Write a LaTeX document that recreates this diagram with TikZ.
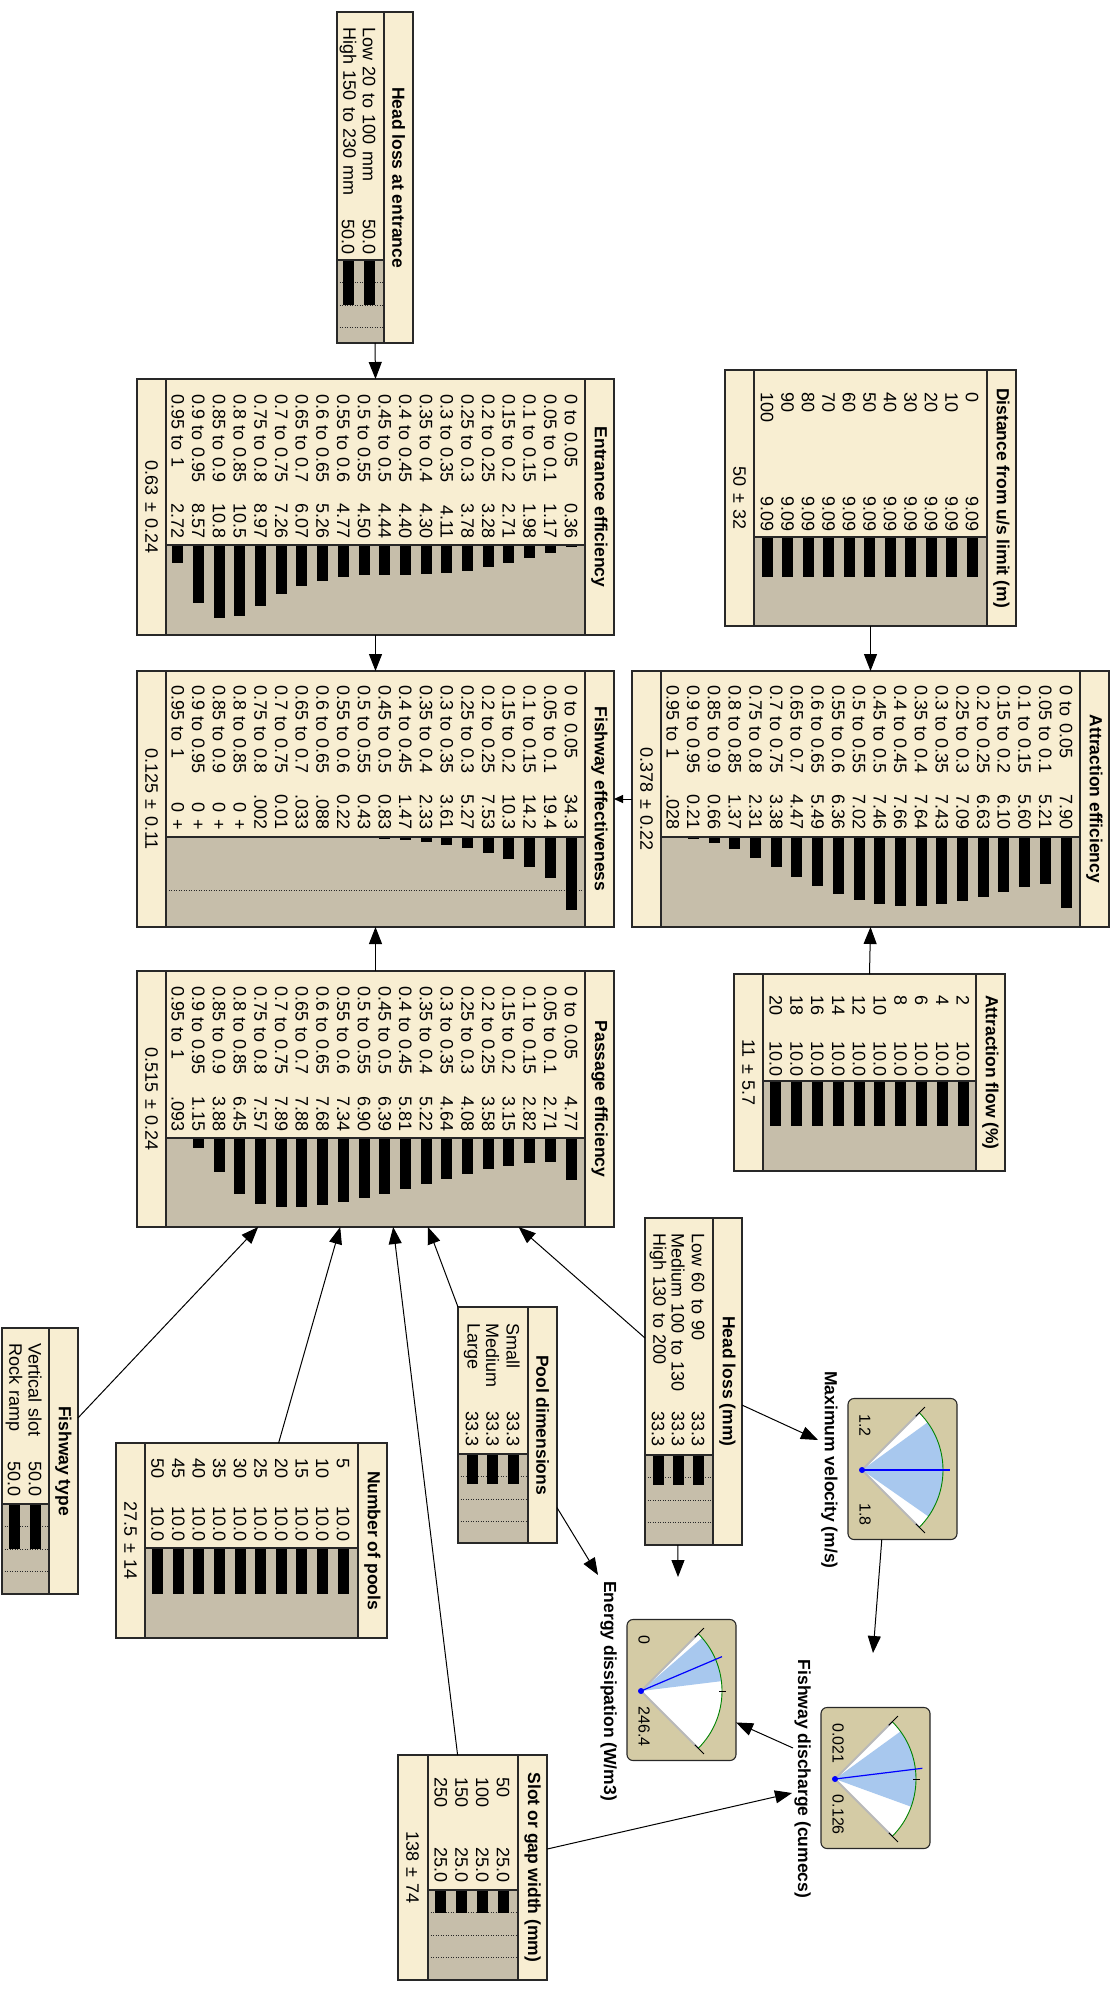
\documentclass[tikz,border=0pt]{standalone}
\usepackage{fontspec}
\setmainfont{Liberation Sans}
\newfontfamily\rowfont[WordSpace=1.3]{Liberation Sans}
\usetikzlibrary{calc,arrows.meta}
\definecolor{netbeige}{RGB}{248,238,210}
\definecolor{netgrey}{RGB}{198,190,170}
\definecolor{gaugetan}{RGB}{212,203,165}
\definecolor{netborder}{RGB}{40,40,40}
\definecolor{fanblue}{RGB}{168,200,238}
\definecolor{edgegrey}{RGB}{185,185,185}
\definecolor{arcgreen}{RGB}{0,130,0}
\definecolor{needleblue}{RGB}{0,0,255}
\tikzset{
 netline/.style={draw=netborder, line width=1.1pt},
 tabbox/.style={fill=netbeige, inner sep=0pt, outer sep=0pt},
 rowtext/.style={font=\rowfont\fontsize{18}{20}\selectfont, inner sep=0pt, text=black},
 gaugetext/.style={font=\fontsize{16}{19}\selectfont, inner sep=0pt, text=black},
 titletext/.style={font=\bfseries\fontsize{17.5}{20}\selectfont, inner sep=0pt},
 dotline/.style={draw=netborder, line width=0.8pt, dash pattern=on 1pt off 1.5pt},
 gaugebox/.style={draw=netborder, line width=1.1pt, fill=gaugetan, rounded corners=6pt, inner sep=0pt, outer sep=0pt},
 conn/.style={draw=black, line width=1pt, -{Triangle[length=17pt,width=13pt]}},
 connsmall/.style={draw=black, line width=1pt, -{Triangle[length=9pt,width=8pt]}},
}
\pgfkeys{/net/.cd,
 top/.store in=\nT, bot/.store in=\nB, lo/.store in=\nL, hi/.store in=\nR,
 split/.store in=\nS, row0/.store in=\nRz, sp/.store in=\nSp, lab/.store in=\nLab,
 val/.store in=\nVal, k/.store in=\nK, mw/.store in=\nMW, mean/.store in=\nMean,
 dots/.store in=\nDots, title/.store in=\nTitle, bh/.store in=\nBH}
\newcommand\NetTable[3]{%
 \pgfkeys{/net/.cd, mw=0, mean={}, dots={-1000}, bh=5.5, #2}%
 \pgfmathsetmacro\nW{\nB-\nT}%
 \pgfmathsetmacro\nH{\nR-\nL}%
 \pgfmathsetmacro\nTS{\nR-29}%
 \pgfmathsetmacro\nBL{\nL+\nMW}%
 \pgfmathsetmacro\nMA{(\nT+\nB)/2}%
 \node[tabbox, minimum width=\nW pt, minimum height=\nH pt, anchor=south west] (#1) at (\nT,\nL) {};%
 \fill[netgrey] (\nS,\nBL) rectangle (\nB,\nTS);%
 \foreach \dd in \nDots {\ifdim\dd pt>0pt \draw[dotline] (\nS+\dd,\nBL) -- (\nS+\dd,\nTS);\fi}%
 \foreach \rl/\rv/\rp [count=\ri from 0] in {#3} {%
   \pgfmathsetmacro\yy{\nRz-\ri*\nSp}%
   \pgfmathsetmacro\bl{\nK*\rp}%
   \node[rowtext, anchor=west] at (\nLab,\yy) {\rl};%
   \node[rowtext, anchor=east] at (\nVal,\yy) {\rv};%
   \fill[black] (\nS,\yy-\nBH) rectangle (\nS+\bl,\yy+\nBH);%
 }%
 \node[titletext] at (\nMA,\nR-14.5) {\nTitle};%
 \ifdim\nMW pt>0pt
   \node[rowtext] at (\nMA,\nL+14.5) {\nMean};%
   \draw[netline] (\nT,\nBL) -- (\nB,\nBL);%
 \fi
 \draw[netline] (\nT,\nTS) -- (\nB,\nTS);%
 \draw[netline] (\nS,\nBL) -- (\nS,\nTS);%
 \draw[netline] (#1.south west) rectangle (#1.north east);%
}
\newcommand\Gauge[9]{%
 \node[gaugebox, minimum width=141pt, minimum height=109pt] (#1) at (#2-1,#3+40.5) {};%
 \coordinate (#1p) at (#2,#3);%
 \fill[white] (#1p) -- ++(45:81) arc[start angle=45,end angle=135,radius=81] -- cycle;%
 \fill[fanblue] (#1p) -- ++(#4:81) arc[start angle=#4,end angle=#5,radius=81] -- cycle;%
 \draw[edgegrey, line width=2pt] (#1p) -- ++(45:81);%
 \draw[edgegrey, line width=2pt] (#1p) -- ++(135:81);%
 \draw[arcgreen, line width=0.9pt] ($(#1p)+(45:81)$) arc[start angle=45,end angle=135,radius=81];%
 \draw[black, line width=0.9pt] ($(#1p)+(45:76)$) -- ($(#1p)+(45:89)$);%
 \draw[black, line width=0.9pt] ($(#1p)+(135:76)$) -- ($(#1p)+(135:89)$);%
 \draw[black, line width=0.9pt] ($(#1p)+(90:78)$) -- ($(#1p)+(90:85)$);%
 \draw[needleblue, line width=1.2pt] (#1p) -- ++(#6:88);%
 \fill[needleblue] (#1p) circle[radius=3];%
 \node[gaugetext, anchor=west] at (#2-56,#3+3) {#7};%
 \node[gaugetext, anchor=east] at (#2+56,#3+3) {#8};%
 \node[titletext] (#1t) at (#2,#3-32.5) {#9};%
}
\begin{document}
\begin{tikzpicture}[x=1pt,y=1pt]
\fill[white] (0,0) rectangle (1114,-1993);
\useasboundingbox (0,0) rectangle (1114,-1993);
\begin{scope}[rotate=-90, transform shape]
\NetTable{hle}{top=12, bot=343, lo=337, hi=413, split=260, row0=369, sp=21, lab=27, val=255, k=0.9, dots={22.5,45,67.5}, title={Head loss at entrance}}{Low 20 to 100 mm/50.0/50, High 150 to 230 mm/50.0/50}
\NetTable{dist}{top=370, bot=626, lo=725, hi=1016, split=537, row0=972, sp=20.5, lab=392, val=532, k=4.45, mw=29, mean={50 ± 32}, title={Distance from u/s limit (m)}}{0/9.09/9.09, 10/9.09/9.09, 20/9.09/9.09, 30/9.09/9.09, 40/9.09/9.09, 50/9.09/9.09, 60/9.09/9.09, 70/9.09/9.09, 80/9.09/9.09, 90/9.09/9.09, 100/9.09/9.09}
\NetTable{ee}{top=379, bot=635, lo=137, hi=614, split=545, row0=571, sp=20.7, lab=394, val=539, k=6.76, mw=29, mean={0.63 ± 0.24}, title={Entrance efficiency}}{0 to 0.05/0.36/0.36, 0.05 to 0.1/1.17/1.17, 0.1 to 0.15/1.98/1.98, 0.15 to 0.2/2.71/2.71, 0.2 to 0.25/3.28/3.28, 0.25 to 0.3/3.78/3.78, 0.3 to 0.35/4.11/4.11, 0.35 to 0.4/4.30/4.30, 0.4 to 0.45/4.40/4.40, 0.45 to 0.5/4.44/4.44, 0.5 to 0.55/4.50/4.50, 0.55 to 0.6/4.77/4.77, 0.6 to 0.65/5.26/5.26, 0.65 to 0.7/6.07/6.07, 0.7 to 0.75/7.26/7.26, 0.75 to 0.8/8.97/8.97, 0.8 to 0.85/10.5/10.5, 0.85 to 0.9/10.8/10.8, 0.9 to 0.95/8.57/8.57, 0.95 to 1/2.72/2.72}
\NetTable{ae}{top=671, bot=927, lo=632, hi=1109, split=837, row0=1066, sp=20.7, lab=685, val=830, k=9.0, mw=29, mean={0.378 ± 0.22}, title={Attraction efficiency}}{0 to 0.05/7.90/7.90, 0.05 to 0.1/5.21/5.21, 0.1 to 0.15/5.60/5.60, 0.15 to 0.2/6.10/6.10, 0.2 to 0.25/6.63/6.63, 0.25 to 0.3/7.09/7.09, 0.3 to 0.35/7.43/7.43, 0.35 to 0.4/7.64/7.64, 0.4 to 0.45/7.66/7.66, 0.45 to 0.5/7.46/7.46, 0.5 to 0.55/7.02/7.02, 0.55 to 0.6/6.36/6.36, 0.6 to 0.65/5.49/5.49, 0.65 to 0.7/4.47/4.47, 0.7 to 0.75/3.38/3.38, 0.75 to 0.8/2.31/2.31, 0.8 to 0.85/1.37/1.37, 0.85 to 0.9/0.66/0.66, 0.9 to 0.95/0.21/0.21, 0.95 to 1/.028/0.028}
\NetTable{fe}{top=671, bot=927, lo=137, hi=614, split=837, row0=571, sp=20.7, lab=685, val=830, k=2.13, mw=29, dots={53.25}, mean={0.125 ± 0.11}, title={Fishway effectiveness}}{0 to 0.05/34.3/34.3, 0.05 to 0.1/19.4/19.4, 0.1 to 0.15/14.2/14.2, 0.15 to 0.2/10.3/10.3, 0.2 to 0.25/7.53/7.53, 0.25 to 0.3/5.27/5.27, 0.3 to 0.35/3.61/3.61, 0.35 to 0.4/2.33/2.33, 0.4 to 0.45/1.47/1.47, 0.45 to 0.5/0.83/0.83, 0.5 to 0.55/0.43/0.43, 0.55 to 0.6/0.22/0.22, 0.6 to 0.65/.088/0.088, 0.65 to 0.7/.033/0.033, 0.7 to 0.75/0.01/0.01, 0.75 to 0.8/.002/0.002, 0.8 to 0.85/0 +/0, 0.85 to 0.9/0 +/0, 0.9 to 0.95/0 +/0, 0.95 to 1/0 +/0}
\NetTable{af}{top=974, bot=1171, lo=734, hi=1005, split=1081, row0=963, sp=20.8, lab=995, val=1077, k=4.5, mw=29, mean={11 ± 5.7}, title={Attraction flow (\%)}}{2/10.0/10, 4/10.0/10, 6/10.0/10, 8/10.0/10, 10/10.0/10, 12/10.0/10, 14/10.0/10, 16/10.0/10, 18/10.0/10, 20/10.0/10}
\NetTable{pe}{top=971, bot=1227, lo=137, hi=614, split=1138, row0=571, sp=20.7, lab=986, val=1132, k=8.75, mw=29, mean={0.515 ± 0.24}, title={Passage efficiency}}{0 to 0.05/4.77/4.77, 0.05 to 0.1/2.71/2.71, 0.1 to 0.15/2.82/2.82, 0.15 to 0.2/3.15/3.15, 0.2 to 0.25/3.58/3.58, 0.25 to 0.3/4.08/4.08, 0.3 to 0.35/4.64/4.64, 0.35 to 0.4/5.22/5.22, 0.4 to 0.45/5.81/5.81, 0.45 to 0.5/6.39/6.39, 0.5 to 0.55/6.90/6.90, 0.55 to 0.6/7.34/7.34, 0.6 to 0.65/7.68/7.68, 0.65 to 0.7/7.88/7.88, 0.7 to 0.75/7.89/7.89, 0.75 to 0.8/7.57/7.57, 0.8 to 0.85/6.45/6.45, 0.85 to 0.9/3.88/3.88, 0.9 to 0.95/1.15/1.15, 0.95 to 1/.093/0.093}
\NetTable{hl}{top=1218, bot=1545, lo=645, hi=742, split=1455, row0=698, sp=20, lab=1233, val=1447, k=0.9, dots={22.5,45,67.5}, title={Head loss (mm)}}{Low 60 to 90/33.3/33.3, Medium 100 to 130/33.3/33.3, High 130 to 200/33.3/33.3}
\NetTable{pd}{top=1307, bot=1543, lo=458, hi=557, split=1454, row0=513, sp=20.5, lab=1323, val=1447, k=0.9, dots={22.5,45,67.5}, title={Pool dimensions}}{Small/33.3/33.3, Medium/33.3/33.3, Large/33.3/33.3}
\NetTable{ft}{top=1328, bot=1594, lo=2, hi=78, split=1504, row0=35, sp=21, lab=1343, val=1497, k=0.9, dots={22.5,45,67.5}, title={Fishway type}}{Vertical slot/50.0/50, Rock ramp/50.0/50}
\NetTable{np}{top=1443, bot=1638, lo=116, hi=387, split=1548, row0=343, sp=20.6, lab=1458, val=1542, k=4.6, mw=29, mean={27.5 ± 14}, title={Number of pools}}{5/10.0/10, 10/10.0/10, 15/10.0/10, 20/10.0/10, 25/10.0/10, 30/10.0/10, 35/10.0/10, 40/10.0/10, 45/10.0/10, 50/10.0/10}
\NetTable{sw}{top=1755, bot=1980, lo=398, hi=547, split=1890, row0=503, sp=20.7, lab=1777, val=1883, k=0.9, mw=30, dots={22.5,45,67.5}, mean={138 ± 74}, title={Slot or gap width (mm)}}{50/25.0/25, 100/25.0/25, 150/25.0/25, 250/25.0/25}
\Gauge{mv}{1470}{862}{55}{126}{90}{1.2}{1.8}{Maximum velocity (m/s)}
\Gauge{ed}{1691}{641}{97}{131}{113}{0}{246.4}{Energy dissipation (W/m3)}
\Gauge{fd}{1779}{835}{70}{126}{97}{0.021}{0.126}{Fishway discharge (cumecs)}
\coordinate (mvIn) at (1440,818);
\coordinate (edIn1) at (1577,678);
\coordinate (edIn2) at (1575,598);
\coordinate (fdIn1) at (1653,873);
\coordinate (fdIn2) at (1793,792);
\coordinate (fdOut) at (1748,793);
\draw[conn] (hle.east) -- (ee.west);
\draw[conn] (dist.east) -- (ae.west);
\draw[conn] (ee.east) -- (fe.west);
\draw[connsmall] (ae.south) -- (fe.north);
\draw[conn] (af.west) -- (ae.east);
\draw[conn] (pe.west) -- (fe.east);
\draw[conn] ($(ft.north west)!0.338!(ft.north east)$) -- ($(pe.south east)!0.254!(pe.north east)$);
\draw[conn] ($(np.south west)!0.60!(np.north west)$) -- ($(pe.south east)!0.426!(pe.north east)$);
\draw[conn] ($(sw.south west)!0.40!(sw.north west)$) -- ($(pe.south east)!0.537!(pe.north east)$);
\draw[conn] (pd.south west) -- ($(pe.south east)!0.61!(pe.north east)$);
\draw[conn] ($(hl.south west)!0.367!(hl.south east)$) -- ($(pe.south east)!0.80!(pe.north east)$);
\draw[conn] ($(hl.north west)!0.572!(hl.north east)$) -- (mvIn);
\draw[conn] ($(hl.south east)!0.34!(hl.north east)$) -- (edIn1);
\draw[conn] ($(pd.north west)!0.85!(pd.north east)$) -- (edIn2);
\draw[conn] ($(mv.south east)!0.31!(mv.north east)$) -- (fdIn1);
\draw[conn] (fdOut) -- ($(ed.north west)!0.73!(ed.north east)$);
\draw[conn] ($(sw.north west)!0.418!(sw.north east)$) -- (fdIn2);
\end{scope}
\end{tikzpicture}
\end{document}
